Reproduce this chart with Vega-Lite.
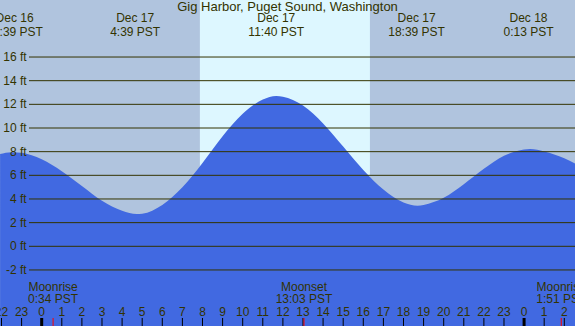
{
  "$schema": "https://vega.github.io/schema/vega-lite/v6.json",
  "width": 575,
  "height": 326,
  "padding": 0,
  "autosize": {"type": "none"},
  "background": "#B0C4DE",
  "config": {"view": {"stroke": null}, "text": {"font": "Liberation Sans", "fontSize": 12, "color": "#333300"}},
  "datasets": {
    "tide": [
      {"t": -2.07, "ft": 7.8}, {"t": -1.5, "ft": 7.96}, {"t": -1, "ft": 7.9}, {"t": 0, "ft": 7.35},
      {"t": 1, "ft": 6.35}, {"t": 2, "ft": 5.1}, {"t": 3, "ft": 3.85}, {"t": 4, "ft": 3.0},
      {"t": 4.73, "ft": 2.73}, {"t": 5, "ft": 2.76}, {"t": 6, "ft": 3.5}, {"t": 7, "ft": 5.0},
      {"t": 8, "ft": 7.05}, {"t": 9, "ft": 9.3}, {"t": 10, "ft": 11.2}, {"t": 11, "ft": 12.4},
      {"t": 11.67, "ft": 12.7}, {"t": 12, "ft": 12.65}, {"t": 13, "ft": 11.9}, {"t": 14, "ft": 10.39},
      {"t": 15, "ft": 8.43}, {"t": 16, "ft": 6.45}, {"t": 17, "ft": 4.8}, {"t": 18, "ft": 3.7},
      {"t": 18.7, "ft": 3.43}, {"t": 19, "ft": 3.5}, {"t": 20, "ft": 4.1}, {"t": 21, "ft": 5.25},
      {"t": 22, "ft": 6.55}, {"t": 23, "ft": 7.65}, {"t": 24, "ft": 8.18}, {"t": 24.3, "ft": 8.22},
      {"t": 25, "ft": 8.02}, {"t": 26, "ft": 7.45}, {"t": 26.6, "ft": 6.95}
    ],
    "day": [{"start": 7.87, "end": 16.33}],
    "levels": [
      {"ft": -2, "label": "-2 ft"}, {"ft": 0, "label": "0 ft"}, {"ft": 2, "label": "2 ft"},
      {"ft": 4, "label": "4 ft"}, {"ft": 6, "label": "6 ft"}, {"ft": 8, "label": "8 ft"},
      {"ft": 10, "label": "10 ft"}, {"ft": 12, "label": "12 ft"}, {"ft": 14, "label": "14 ft"},
      {"ft": 16, "label": "16 ft"}
    ],
    "hours": [
      {"t": -2, "label": "22"}, {"t": -1, "label": "23"}, {"t": 0, "label": "0"}, {"t": 1, "label": "1"},
      {"t": 2, "label": "2"}, {"t": 3, "label": "3"}, {"t": 4, "label": "4"}, {"t": 5, "label": "5"},
      {"t": 6, "label": "6"}, {"t": 7, "label": "7"}, {"t": 8, "label": "8"}, {"t": 9, "label": "9"},
      {"t": 10, "label": "10"}, {"t": 11, "label": "11"}, {"t": 12, "label": "12"}, {"t": 13, "label": "13"},
      {"t": 14, "label": "14"}, {"t": 15, "label": "15"}, {"t": 16, "label": "16"}, {"t": 17, "label": "17"},
      {"t": 18, "label": "18"}, {"t": 19, "label": "19"}, {"t": 20, "label": "20"}, {"t": 21, "label": "21"},
      {"t": 22, "label": "22"}, {"t": 23, "label": "23"}, {"t": 24, "label": "0"}, {"t": 25, "label": "1"},
      {"t": 26, "label": "2"}
    ],
    "extremes": [
      {"t": -1.35, "date": "Dec 16", "time": "22:39 PST"},
      {"t": 4.65, "date": "Dec 17", "time": "4:39 PST"},
      {"t": 11.67, "date": "Dec 17", "time": "11:40 PST"},
      {"t": 18.65, "date": "Dec 17", "time": "18:39 PST"},
      {"t": 24.22, "date": "Dec 18", "time": "0:13 PST"}
    ],
    "moon": [
      {"t": 0.567, "event": "Moonrise", "time": "0:34 PST"},
      {"t": 13.05, "event": "Moonset", "time": "13:03 PST"},
      {"t": 25.85, "event": "Moonrise", "time": "1:51 PST"}
    ],
    "title": [{"t": 12.23, "text": "Gig Harbor, Puget Sound, Washington"}]
  },
  "layer": [
    {
      "data": {"name": "day"},
      "mark": {"type": "rect", "color": "#DDF7FF"},
      "encoding": {
        "x": {"field": "start", "type": "quantitative", "scale": {"domain": [-2.0746, 26.533], "nice": false, "zero": false}, "axis": null},
        "x2": {"field": "end"},
        "y": {"datum": 20.82, "type": "quantitative", "scale": {"domain": [-6.737, 20.82], "nice": false, "zero": false}, "axis": null},
        "y2": {"datum": -6.737}
      }
    },
    {
      "data": {"name": "tide"},
      "mark": {"type": "area", "color": "#4169E1", "interpolate": "monotone", "clip": true},
      "encoding": {
        "x": {"field": "t", "type": "quantitative"},
        "y": {"field": "ft", "type": "quantitative"},
        "y2": {"datum": -6.737}
      }
    },
    {
      "data": {"name": "levels"},
      "mark": {"type": "rule", "color": "#333300", "strokeWidth": 1},
      "encoding": {
        "y": {"field": "ft", "type": "quantitative"},
        "x": {"datum": -0.632},
        "x2": {"datum": 26.533}
      }
    },
    {
      "data": {"name": "levels"},
      "mark": {"type": "text", "align": "right", "baseline": "middle"},
      "encoding": {
        "y": {"field": "ft", "type": "quantitative"},
        "x": {"datum": -0.746},
        "text": {"field": "label"}
      }
    },
    {
      "data": {"name": "hours"},
      "mark": {"type": "rule", "color": "#000000"},
      "encoding": {
        "x": {"field": "t", "type": "quantitative"},
        "y": {"datum": -6.737},
        "y2": {"datum": -6.06},
        "strokeWidth": {"condition": {"test": "datum.label == '0'", "value": 3}, "value": 1}
      }
    },
    {
      "data": {"name": "hours"},
      "mark": {"type": "text", "align": "center", "baseline": "middle"},
      "encoding": {
        "x": {"field": "t", "type": "quantitative"},
        "y": {"datum": -5.53},
        "text": {"field": "label"}
      }
    },
    {
      "data": {"name": "moon"},
      "mark": {"type": "rule", "color": "#FF0000", "strokeWidth": 1},
      "encoding": {
        "x": {"field": "t", "type": "quantitative"},
        "y": {"datum": -6.737},
        "y2": {"datum": -6.06}
      }
    },
    {
      "data": {"name": "moon"},
      "mark": {"type": "text", "align": "center", "baseline": "middle"},
      "encoding": {
        "x": {"field": "t", "type": "quantitative"},
        "y": {"datum": -3.47},
        "text": {"field": "event"}
      }
    },
    {
      "data": {"name": "moon"},
      "mark": {"type": "text", "align": "center", "baseline": "middle"},
      "encoding": {
        "x": {"field": "t", "type": "quantitative"},
        "y": {"datum": -4.48},
        "text": {"field": "time"}
      }
    },
    {
      "data": {"name": "extremes"},
      "mark": {"type": "text", "align": "center", "baseline": "middle"},
      "encoding": {
        "x": {"field": "t", "type": "quantitative"},
        "y": {"datum": 19.33},
        "text": {"field": "date"}
      }
    },
    {
      "data": {"name": "extremes"},
      "mark": {"type": "text", "align": "center", "baseline": "middle"},
      "encoding": {
        "x": {"field": "t", "type": "quantitative"},
        "y": {"datum": 18.14},
        "text": {"field": "time"}
      }
    },
    {
      "data": {"name": "title"},
      "mark": {"type": "text", "align": "center", "baseline": "middle", "fontSize": 13},
      "encoding": {
        "x": {"field": "t", "type": "quantitative"},
        "y": {"datum": 20.19},
        "text": {"field": "text"}
      }
    }
  ]
}
